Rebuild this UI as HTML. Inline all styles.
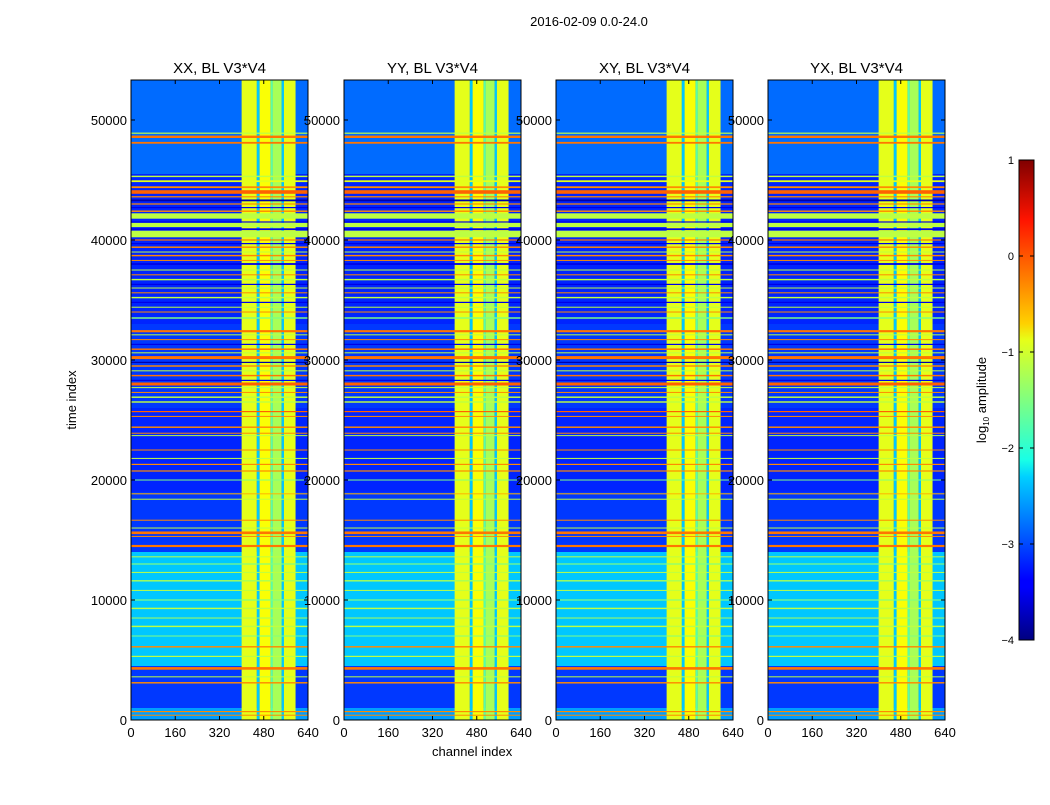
<!DOCTYPE html>
<html><head><meta charset="utf-8"><style>
body{margin:0;background:#fff;font-family:"Liberation Sans",sans-serif;}
svg text{font-family:"Liberation Sans",sans-serif;}
</style></head><body>
<svg id="fig" width="1050" height="800" xmlns="http://www.w3.org/2000/svg">
<defs>
<linearGradient id="jetg" x1="0" y1="1" x2="0" y2="0">
<stop offset="0" stop-color="#000080"/><stop offset="0.11" stop-color="#0000ff"/><stop offset="0.125" stop-color="#0000ff"/>
<stop offset="0.34" stop-color="#00d0ff"/><stop offset="0.375" stop-color="#19ffe6"/><stop offset="0.5" stop-color="#80ff80"/>
<stop offset="0.625" stop-color="#e6ff19"/><stop offset="0.66" stop-color="#ffd000"/><stop offset="0.875" stop-color="#ff1400"/><stop offset="1" stop-color="#800000"/>
</linearGradient>
</defs>
<text x="589" y="26" font-size="13" text-anchor="middle">2016-02-09 0.0-24.0</text>
<g id="panels"></g>
<rect x="1019" y="160" width="15" height="480" fill="url(#jetg)" stroke="#000" stroke-width="1"/>
<g id="cbar"></g>
<text transform="translate(986,400) rotate(-90)" font-size="13" text-anchor="middle">log<tspan font-size="8" dy="3">10</tspan><tspan dy="-3"> amplitude</tspan></text>
<text x="432" y="756" font-size="13">channel index</text>
<text transform="translate(76,400) rotate(-90)" font-size="13" text-anchor="middle">time index</text>
</svg>
<script>
const panelTitles=["XX, BL V3*V4","YY, BL V3*V4","XY, BL V3*V4","YX, BL V3*V4"];
const xTicks=[0,160,320,480,640];
const yTicks=[0,10000,20000,30000,40000,50000];
const cbTicks=[1,0,-1,-2,-3,-4];
// background time segments: [tStart, tEnd, log10 amp]
const bgSegments=[[0,1000,-2.6],[1000,4500,-3.1],[4500,14000,-2.4],[14000,19000,-3.1],[19000,26000,-3.2],[26000,33000,-3.1],[33000,45500,-3.2],[45500,53333,-2.85]];
// RFI channel segments: [chStart, chEnd, log10 amp]
const chanSegments=[[400,455,-1.0],[455,465,-2.4],[465,505,-0.9],[505,512,-1.7],[512,545,-1.3],[545,553,-2.4],[553,595,-1.0]];
// horizontal line events: [time, width, log10 amp]
const rowLines=[[48900,100,-1.2],[48600,200,-0.2],[48100,150,-0.2],[45300,120,-1.2],[44900,150,-1.0],[44400,150,-0.3],[44000,300,-0.1],[43600,100,-0.3],[43300,150,-3.8],[43000,100,-0.3],[42700,100,-3.5],[42400,120,-0.3],[42000,450,-1.2],[41500,100,-3.5],[41250,350,-1.2],[40900,150,-3.5],[40500,550,-1.2],[40000,100,-0.2],[39700,100,-3.5],[39400,120,-0.3],[39000,80,-1.2],[38700,120,-0.3],[38300,80,-0.3],[38000,150,-3.5],[37500,80,-1.2],[37100,80,-0.3],[36700,120,-1.2],[36300,100,-3.5],[36000,80,-1.2],[35600,80,-0.3],[35200,120,-1.2],[34800,100,-3.5],[34400,80,-1.2],[34000,80,-0.3],[33500,120,-1.5],[32400,180,-0.2],[32100,80,-1.2],[31700,80,-0.3],[31300,100,-3.5],[30900,120,-0.2],[30600,80,-1.2],[30200,250,-0.2],[29800,100,-3.8],[29500,120,-0.3],[29100,80,-1.2],[28700,120,-0.2],[28300,100,-3.5],[28000,250,-0.1],[27700,80,-1.2],[27300,80,-0.3],[26900,120,-1.2],[26500,120,-1.2],[25700,100,-0.1],[25300,80,-0.3],[24400,120,-0.3],[23900,80,-0.3],[23700,80,-1.2],[22500,80,-0.3],[21800,80,-1.2],[21300,100,-0.3],[20750,100,-0.3],[20000,80,-1.5],[18850,80,-0.5],[18400,80,-1.2],[16650,80,-0.3],[16000,80,-1.2],[15600,220,-0.2],[15300,80,-0.3],[14500,180,-0.2],[13600,80,-1.2],[13000,100,-1.5],[12300,80,-1.2],[11600,120,-1.3],[10800,80,-1.2],[10000,100,-1.5],[9300,120,-1.2],[8500,80,-1.3],[7800,120,-1.2],[7000,80,-1.5],[6100,120,-0.3],[5300,100,-1.2],[4300,220,-0.2],[3600,80,-1.2],[3100,120,-0.3],[700,100,-0.3],[400,80,-0.3]];
const TMAX=53333, CMAX=640;
function jet(v){let x=(v+4)/5;x=Math.max(0,Math.min(1,x));
 const c=t=>Math.round(255*Math.max(0,Math.min(1,1.5-Math.abs(4*x-t))));
 return `rgb(${c(3)},${c(2)},${c(1)})`;}
const NS="http://www.w3.org/2000/svg";
function mk(tag,attrs,parent){const e=document.createElementNS(NS,tag);for(const k in attrs)e.setAttribute(k,attrs[k]);parent.appendChild(e);return e;}
const lefts=[131,344,556,768], W=177, TOP=80, BOT=720;
const pg=document.getElementById('panels');
lefts.forEach((L,pi)=>{
 const g=mk('g',{},pg);
 
 
 const xs=c=>L+c/CMAX*W, ys=t=>BOT-t/TMAX*(BOT-TOP);
 bgSegments.forEach(s=>{
  const r=mk('rect',{x:L,y:ys(s[1]),width:W,height:ys(s[0])-ys(s[1]),fill:jet(s[2])},g);
  
  
 });
 chanSegments.forEach(s=>{
  const r=mk('rect',{x:xs(s[0]),y:TOP,width:xs(s[1])-xs(s[0]),height:BOT-TOP,fill:jet(s[2])},g);
  
  
 });
 rowLines.forEach(s=>{
  const y1=ys(s[0]+s[1]/2), y2=ys(s[0]-s[1]/2);
  const r=mk('rect',{x:L,y:y1,width:W,height:Math.max(1,y2-y1),fill:jet(s[2])},g);
  
  
 });
 mk('rect',{x:L,y:TOP,width:W,height:BOT-TOP,fill:'none',stroke:'#000','stroke-width':1},g);
 const t=mk('text',{x:L+W/2,y:73,'font-size':15,'text-anchor':'middle'},g);t.textContent=panelTitles[pi];
 
 
 xTicks.forEach(v=>{const x=xs(v);
  mk('line',{x1:x,x2:x,y1:BOT,y2:BOT-4,stroke:'#000'},g);mk('line',{x1:x,x2:x,y1:TOP,y2:TOP+4,stroke:'#000'},g);
  const tx=mk('text',{x:x,y:BOT+17,'font-size':13,'text-anchor':'middle'},g);tx.textContent=v;
  
  });
 yTicks.forEach(v=>{const y=ys(v);
  mk('line',{x1:L,x2:L+4,y1:y,y2:y,stroke:'#000'},g);mk('line',{x1:L+W,x2:L+W-4,y1:y,y2:y,stroke:'#000'},g);
  const tx=mk('text',{x:L-4,y:y+5,'font-size':13,'text-anchor':'end'},g);tx.textContent=v;
  
  });
});
const cb=document.getElementById('cbar');
cbTicks.forEach(v=>{const y=160+(1-v)/5*480;
 mk('line',{x1:1019,x2:1023,y1:y,y2:y,stroke:'#000'},cb);mk('line',{x1:1030,x2:1034,y1:y,y2:y,stroke:'#000'},cb);
 const tx=mk('text',{x:1014,y:y+4,'font-size':11,'text-anchor':'end'},cb);tx.textContent=v<0?'\u2212'+(-v):v;
 
 });
</script>
</body></html>
